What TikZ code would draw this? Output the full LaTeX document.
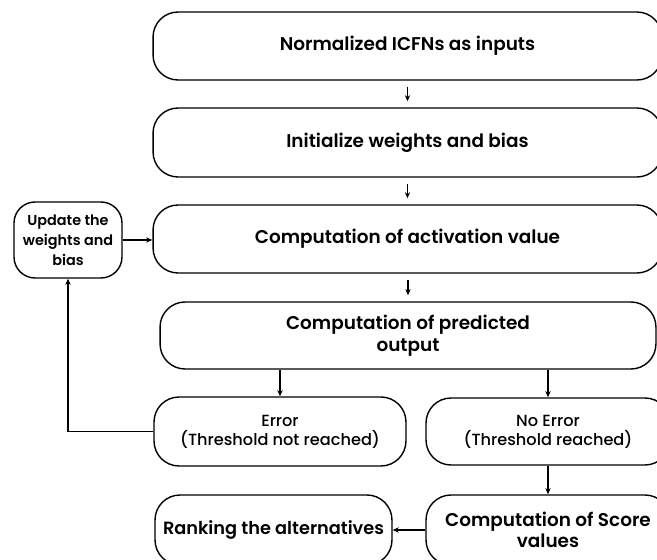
\documentclass[tikz,border=0pt]{standalone}
\usepackage{fontspec}
\setmainfont{Poppins}[BoldFont={Poppins SemiBold}]
\newfontfamily\mediumfont{Poppins Medium}
\usetikzlibrary{arrows.meta, positioning}

\begin{document}
\begin{tikzpicture}[>=Stealth, x=0.02cm, y=-0.02cm,
  stage/.style={draw, line width=0.8pt, rounded corners=0.5cm, align=center,
    inner sep=2pt, font=\fontsize{10.5}{12.3}\selectfont\bfseries},
  check/.style={stage, font=\fontsize{9.2}{10.8}\selectfont\mediumfont},
  flow/.style={->, line width=0.6pt, >={Stealth[length=3.5pt, width=3pt]}},
  gap/.style={shorten <=0.12cm, shorten >=0.12cm}]
  % ── Canvas (right and bottom boxes run off the edge) ─────────
  \useasboundingbox (0,0) rectangle (657,560);
  \clip (0,0) rectangle (657,560);
  % ── Main column ──────────────────────────────────────────────
  \node[stage, minimum width=10.18cm, minimum height=1.36cm] (inputs) at (407.5,46)    {Normalized ICFNs as inputs};
  \node[stage, minimum width=10.18cm, minimum height=1.38cm] (init)   at (407.5,142.5) {Initialize weights and bias};
  \node[stage, minimum width=10.18cm, minimum height=1.36cm] (act)    at (407.5,239)   {Computation of activation value};
  \node[stage, minimum width=9.92cm,  minimum height=1.34cm] (pred)   at (408,335.5)   {Computation of predicted\\output};
  % ── Feedback box on the left ─────────────────────────────────
  \node[stage, rounded corners=0.42cm, minimum width=2.16cm, minimum height=1.52cm,
        font=\fontsize{8.2}{11.3}\selectfont\bfseries] (update) at (68,240) {Update the\\weights and\\bias};
  % ── Outcome of the check ─────────────────────────────────────
  \node[check, minimum width=5.04cm, minimum height=1.38cm] (err)   at (280,431.5) {Error\\(Threshold not reached)};
  \node[check, minimum width=4.88cm, minimum height=1.34cm] (noerr) at (548,431.5) {No Error\\(Threshold reached)};
  % ── Final stage ──────────────────────────────────────────────
  \node[stage, minimum width=4.88cm, minimum height=1.4cm,
        font=\fontsize{10.5}{11.6}\selectfont\bfseries] (score) at (548,530) {Computation of Score\\values};
  \node[stage, minimum width=4.74cm, minimum height=1.4cm,
        font=\fontsize{10.1}{11.6}\selectfont\bfseries] (rank)  at (273.5,530) {Ranking the alternatives};
  % ── Connectors ───────────────────────────────────────────────
  \draw[flow, gap] (inputs) -- (init);
  \draw[flow, gap] (init) -- (act);
  \draw[flow, gap] (act.south -| pred) -- (pred);
  \draw[flow] (update) -- (act.west |- update);
  \draw[flow] (pred.south -| err) -- (err);
  \draw[flow] (pred.south -| noerr) -- (noerr);
  \draw[flow] (noerr) -- (score);
  \draw[flow] (score) -- (rank);
  \draw[flow] (err.west) -| (update.south);
\end{tikzpicture}
\end{document}
